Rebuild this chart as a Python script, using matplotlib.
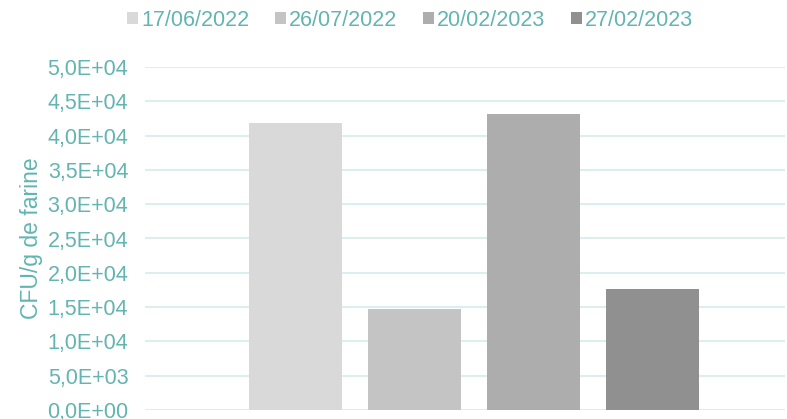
import matplotlib
matplotlib.use("Agg")
import matplotlib.pyplot as plt
from matplotlib.ticker import FuncFormatter, MultipleLocator
from matplotlib.patches import Patch

plt.rcParams['font.family'] = ['Liberation Sans', 'DejaVu Sans']

series = ["17/06/2022", "26/07/2022", "20/02/2023", "27/02/2023"]
values = [41800, 14700, 43100, 17600]
colors = ["#D9D9D9", "#C4C4C4", "#ADADAD", "#909090"]
ylabel = "CFU/g de farine"

teal = "#62B5B1"
grid = "#DCEEEE"

fig = plt.figure(figsize=(7.87, 4.19), dpi=100)
ax = fig.add_axes([145/787, 9/419, 640/787, 343/419])

for i, (s, v, c) in enumerate(zip(series, values, colors)):
    ax.bar(i, v, width=0.78, color=c, label=s, zorder=3)

ax.set_xlim(-1.265, 4.11)
ax.set_ylim(0, 50000)
ax.yaxis.set_major_locator(MultipleLocator(5000))
ax.yaxis.set_major_formatter(FuncFormatter(lambda v, p: f"{v:.1E}".replace('.', ',')))
ax.set_xticks([])
ax.tick_params(axis='y', length=0, pad=12, labelsize=15.5, labelcolor=teal)
for sp in ax.spines.values():
    sp.set_visible(False)
ax.grid(axis='y', color=grid, linewidth=1.5, zorder=0)
ax.set_axisbelow(True)
ax.set_ylabel(ylabel, fontsize=16.5, color=teal)
ax.yaxis.set_label_coords(-0.16, 0.5)

handles = [Patch(facecolor=c, edgecolor='none') for c in colors]
leg = fig.legend(handles, series, loc='center', bbox_to_anchor=(410/787, 1 - 20/419),
                 ncol=4, frameon=False, fontsize=15.5, handlelength=0.5, handleheight=0.5,
                 handletextpad=0.15, columnspacing=1.2, borderaxespad=0, borderpad=0)
for t in leg.get_texts():
    t.set_color(teal)

fig.savefig("out.png", dpi=100)
